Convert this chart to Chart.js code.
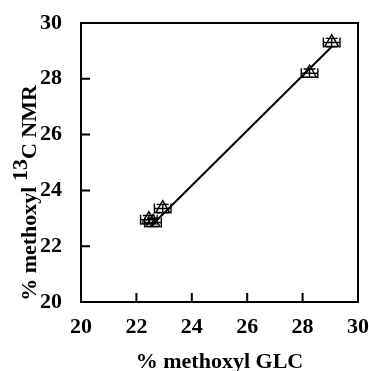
<!DOCTYPE html>
<html>
<head>
<meta charset="utf-8">
<script src="https://cdn.jsdelivr.net/npm/chart.js@4/dist/chart.umd.min.js"></script>
<style>
  html, body { margin: 0; padding: 0; background: #fff; }
  #wrap { width: 369px; height: 371px; }
</style>
</head>
<body>
<div id="wrap"><canvas id="chart" width="369" height="371"></canvas></div>
<script>
// measured values (GLC vs 13C NMR)
const glcValues = [22.45, 22.6, 22.95, 28.25, 29.05];
const nmrValues = [22.95, 22.85, 23.35, 28.2, 29.3];
const glcErr = [0.3, 0.3, 0.3, 0.3, 0.3];
const nmrErr = [0.15, 0.15, 0.15, 0.15, 0.15];

// regression line end points
const fitX = [22.5, 29.05];
const fitY = [22.7, 29.15];

const tickValues = [20, 22, 24, 26, 28, 30];

const serif = '"Liberation Serif", "DejaVu Serif", serif';

const frame = {
    id: 'frame',
    afterDatasetsDraw(chart) {
        const ctx = chart.ctx;
        const a = chart.chartArea;
        const xs = chart.scales.x;
        const ys = chart.scales.y;
        ctx.save();
        ctx.strokeStyle = '#000';

        // error bars
        ctx.lineWidth = 1.4;
        glcValues.forEach((v, i) => {
            const px = xs.getPixelForValue(v);
            const py = ys.getPixelForValue(nmrValues[i]);
            const x0 = xs.getPixelForValue(v - glcErr[i]);
            const x1 = xs.getPixelForValue(v + glcErr[i]);
            const y0 = ys.getPixelForValue(nmrValues[i] - nmrErr[i]);
            const y1 = ys.getPixelForValue(nmrValues[i] + nmrErr[i]);
            ctx.beginPath();
            ctx.moveTo(x0, py); ctx.lineTo(x1, py);
            ctx.moveTo(x0, py - 5); ctx.lineTo(x0, py + 5);
            ctx.moveTo(x1, py - 5); ctx.lineTo(x1, py + 5);
            ctx.moveTo(px, y0); ctx.lineTo(px, y1);
            ctx.moveTo(px - 6, y0); ctx.lineTo(px + 6, y0);
            ctx.moveTo(px - 6, y1); ctx.lineTo(px + 6, y1);
            ctx.stroke();
        });

        // box
        ctx.lineWidth = 2;
        ctx.strokeRect(a.left, a.top, a.right - a.left, a.bottom - a.top);

        // inward ticks
        ctx.beginPath();
        tickValues.slice(1, -1).forEach(t => {
            const px = xs.getPixelForValue(t);
            ctx.moveTo(px, a.bottom); ctx.lineTo(px, a.bottom - 9);
            const py = ys.getPixelForValue(t);
            ctx.moveTo(a.left, py); ctx.lineTo(a.left + 9, py);
        });
        ctx.stroke();

        // y title with raised 13
        ctx.fillStyle = '#000';
        ctx.translate(30, 193);
        ctx.rotate(-Math.PI / 2);
        ctx.textBaseline = 'middle';
        ctx.font = 'bold 22px ' + serif;
        const parts = [['% methoxyl ', 0], ['13', -9], ['C NMR', 0]];
        let total = 0;
        parts.forEach(p => { total += ctx.measureText(p[0]).width; });
        let x = -total / 2;
        parts.forEach(p => {
            ctx.fillText(p[0], x, p[1]);
            x += ctx.measureText(p[0]).width;
        });
        ctx.restore();
    }
};

new Chart(document.getElementById('chart').getContext('2d'), {
    type: 'scatter',
    data: {
        datasets: [
            {
                type: 'line',
                data: fitX.map((x, i) => ({ x: x, y: fitY[i] })),
                borderColor: '#000',
                borderWidth: 2,
                pointRadius: 0,
                fill: false
            },
            {
                data: glcValues.map((x, i) => ({ x: x, y: nmrValues[i] })),
                pointStyle: 'triangle',
                pointRadius: 8,
                backgroundColor: 'rgba(255,255,255,0)',
                borderColor: '#000',
                borderWidth: 1.4
            }
        ]
    },
    options: {
        responsive: false,
        animation: false,
        layout: { padding: { top: 23, right: 11, left: 0, bottom: 0 } },
        plugins: { legend: { display: false }, tooltip: { enabled: false } },
        scales: {
            x: {
                type: 'linear',
                min: 20, max: 30,
                afterFit(scale) { scale.height = 69; scale.paddingLeft = 0; scale.paddingRight = 0; },
                afterBuildTicks(scale) { scale.ticks = tickValues.map(v => ({ value: v })); },
                grid: { display: false },
                border: { display: false },
                ticks: { color: '#000', font: { family: serif, size: 22, weight: 'bold' }, padding: 4, maxRotation: 0 },
                title: {
                    display: true,
                    text: '% methoxyl GLC',
                    color: '#000',
                    font: { family: serif, size: 22, weight: 'bold', lineHeight: 1 },
                    padding: { top: 0, bottom: -2 }
                }
            },
            y: {
                type: 'linear',
                min: 20, max: 30,
                afterFit(scale) { scale.width = 81; scale.paddingTop = 0; scale.paddingBottom = 0; },
                afterBuildTicks(scale) { scale.ticks = tickValues.map(v => ({ value: v })); },
                grid: { display: false },
                border: { display: false },
                ticks: { color: '#000', font: { family: serif, size: 22, weight: 'bold' }, padding: 11 }
            }
        }
    },
    plugins: [frame]
});
</script>
</body>
</html>
